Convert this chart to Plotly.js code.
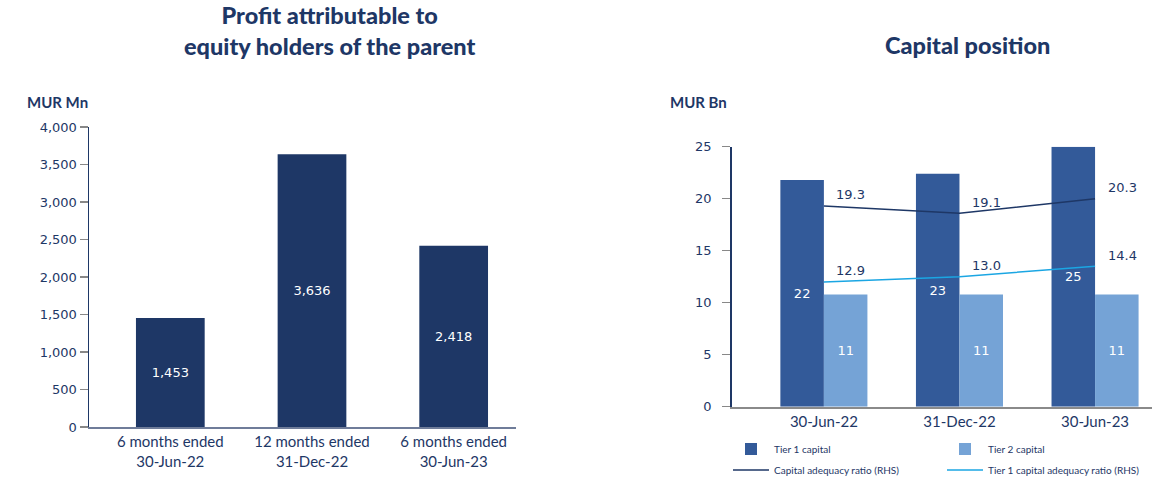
<!DOCTYPE html>
<html><head><meta charset="utf-8">
<script src="https://cdn.plot.ly/plotly-3.0.1.min.js"></script>
<style>html,body{margin:0;padding:0;background:#fff}#chart{width:1152px;height:482px}</style>
</head><body><div id="chart"></div>
<script>
// Left chart data
const profitCategories = ['6 months ended<br>30-Jun-22', '12 months ended<br>31-Dec-22', '6 months ended<br>30-Jun-23'];
const profitValues = [1453, 3636, 2418];

// Right chart data
const capitalCategories = ['30-Jun-22', '31-Dec-22', '30-Jun-23'];
const tier1Capital = [21.8, 22.4, 25.0];
const tier1Labels = ['22', '23', '25'];
const tier2Capital = [10.8, 10.8, 10.8];
const tier2Labels = ['11', '11', '11'];
const carPlotted = [19.3, 18.6, 20.0];
const carLabels = [19.3, 19.1, 20.3];
const tier1RatioPlotted = [12.0, 12.5, 13.5];
const tier1RatioLabels = [12.9, 13.0, 14.4];

const navy = '#1e3766';
const numFont = 'DejaVu Sans';
const txtFont = 'Lato';

const traces = [
  {type:'bar', x: profitCategories, y: profitValues, xaxis:'x', yaxis:'y', width:0.485,
   marker:{color: navy}, showlegend:false,
   text: profitValues.map(v => v.toLocaleString('en-US')), textposition:'inside', insidetextanchor:'middle',
   textfont:{family:numFont, size:13, color:'#ffffff'}, hoverinfo:'skip'},
  {type:'bar', name:'Tier 1 capital', x: capitalCategories, y: tier1Capital, xaxis:'x2', yaxis:'y2',
   width:0.321, offset:-0.321,
   marker:{color:'#335a99'}, text: tier1Labels, textposition:'inside', insidetextanchor:'middle',
   textfont:{family:numFont, size:13, color:'#ffffff'}, legend:'legend'},
  {type:'bar', name:'Tier 2 capital', x: capitalCategories, y: tier2Capital, xaxis:'x2', yaxis:'y2',
   width:0.321, offset:0,
   marker:{color:'#75a3d6'}, text: tier2Labels, textposition:'inside', insidetextanchor:'middle',
   textfont:{family:numFont, size:13, color:'#ffffff'}, legend:'legend'},
  {type:'scatter', mode:'lines', name:'Capital adequacy ratio (RHS)', x: capitalCategories, y: carPlotted,
   xaxis:'x2', yaxis:'y3', line:{color: navy, width:1.5}, legend:'legend2'},
  {type:'scatter', mode:'lines', name:'Tier 1 capital adequacy ratio (RHS)', x: capitalCategories, y: tier1RatioPlotted,
   xaxis:'x2', yaxis:'y3', line:{color:'#1ba6e3', width:1.5}, legend:'legend2'}
];

const lineLabelAnnots = [];
[[carPlotted, carLabels], [tier1RatioPlotted, tier1RatioLabels]].forEach(([ys, labels]) => {
  capitalCategories.forEach((c, i) => {
    lineLabelAnnots.push({x:c, y:ys[i], xref:'x2', yref:'y3', text: labels[i].toFixed(1),
      showarrow:false, xanchor:'center', yanchor:'middle', xshift:27, yshift:11,
      font:{family:numFont, size:13, color:navy}});
  });
});

const legendBase = {orientation:'h', xanchor:'left', yanchor:'middle',
    entrywidth:163, entrywidthmode:'pixels', traceorder:'normal', itemwidth:36,
    font:{family:txtFont, size:10, color:navy}, bgcolor:'rgba(0,0,0,0)'};

const layout = {
  width:1152, height:482, margin:{l:0, r:0, t:0, b:0, autoexpand:false},
  paper_bgcolor:'#fff', plot_bgcolor:'#fff',
  font:{family:txtFont, color:navy},
  barmode:'overlay',
  showlegend:true,
  xaxis:{domain:[89/1152, 516/1152], anchor:'y', range:[-0.574, 2.44], type:'category',
    showline:true, linecolor:'#6f7c99', linewidth:2, ticks:'', showgrid:false, zeroline:false,
    tickfont:{family:txtFont, size:15, color:navy}, automargin:false},
  yaxis:{domain:[1-427/482, 1-127/482], anchor:'x', range:[0,4000], dtick:500,
    showline:true, linecolor:navy, linewidth:1.5, ticks:'outside', ticklen:8, tickcolor:'#888888', tickwidth:1.5,
    tickformat:',d', showgrid:false, zeroline:false,
    tickfont:{family:numFont, size:13, color:navy}, automargin:false},
  xaxis2:{domain:[731.7/1152, 1], anchor:'y2', range:[-0.68, 2.42], type:'category',
    showline:true, linecolor:'#8a8a8a', linewidth:2, ticks:'', showgrid:false, zeroline:false,
    tickfont:{family:txtFont, size:15, color:navy}, automargin:false},
  yaxis2:{domain:[1-406.7/482, 1-146.7/482], anchor:'x2', range:[0,25], dtick:5,
    showline:true, linecolor:navy, linewidth:1.5, ticks:'outside', ticklen:8, tickcolor:'#888888', tickwidth:1.5,
    ticklabelstandoff:8, showgrid:false, zeroline:false,
    tickfont:{family:numFont, size:13, color:navy}, automargin:false},
  yaxis3:{overlaying:'y2', anchor:'x2', side:'right', range:[0,25], visible:false},
  legend:Object.assign({}, legendBase, {x:728/1152, y:1-449/482}),
  legend2:Object.assign({}, legendBase, {x:728/1152, y:1-470/482}),
  annotations:[
    {text:'Profit attributable to<br>equity holders of the parent', xref:'paper', yref:'paper',
     x:330/1152, y:1-31/482, xanchor:'center', yanchor:'middle', showarrow:false,
     font:{family:txtFont, size:23.5, color:navy, weight:900}},
    {text:'Capital position', xref:'paper', yref:'paper',
     x:967.5/1152, y:1-45/482, xanchor:'center', yanchor:'middle', showarrow:false,
     font:{family:txtFont, size:23.5, color:navy, weight:900}},
    {text:'<b>MUR Mn</b>', xref:'paper', yref:'paper', x:25/1152, y:1-102/482, xanchor:'left', yanchor:'middle',
     showarrow:false, font:{family:txtFont, size:15, color:navy}},
    {text:'<b>MUR Bn</b>', xref:'paper', yref:'paper', x:668/1152, y:1-102/482, xanchor:'left', yanchor:'middle',
     showarrow:false, font:{family:txtFont, size:15, color:navy}}
  ].concat(lineLabelAnnots)
};

Plotly.newPlot('chart', traces, layout, {displayModeBar:false, staticPlot:true});
</script>
</body></html>
